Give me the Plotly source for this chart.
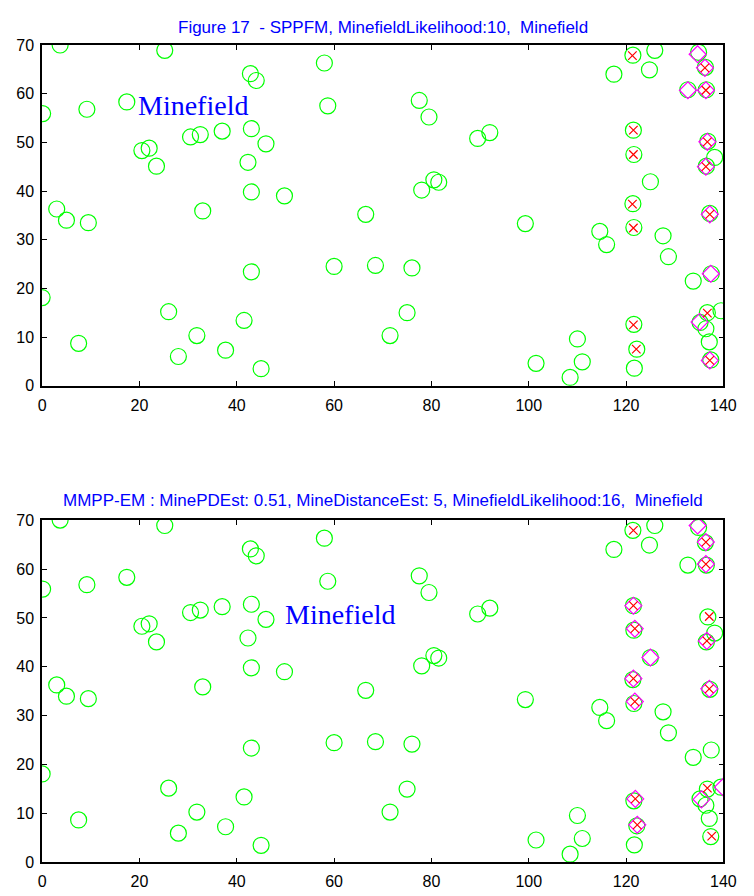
import plotly.graph_objects as go

# ---------------- data ----------------
obj_x = [3.7, 0.1, 9.2, 17.4, 25.2, 3.0, 5.0, 9.5, 0.0, 7.5, 20.5, 22.0, 23.5, 30.5, 32.5,
         37.0, 33.0, 26.0, 28.0, 31.8, 37.7, 41.5, 42.8, 44.0, 43.0, 46.0, 42.3, 43.0, 43.0,
         45.0, 49.8, 58.0, 58.7, 66.5, 60.0, 68.5, 71.5, 75.0, 76.0, 77.5, 79.5, 78.0, 80.5,
         81.5, 89.5, 92.0, 99.3, 101.5, 108.5, 110.0, 111.0, 114.6, 116.0, 117.5, 121.4,
         125.9, 124.8, 125.0, 127.6, 128.7, 133.8, 121.5, 121.6, 121.4, 121.6, 121.6, 122.2,
         121.7, 134.9, 136.3, 132.7, 136.5, 136.8, 138.2, 136.5, 137.2, 137.5, 135.2, 136.7,
         139.5, 136.4, 137.1, 137.4]
obj_y = [70.0, 55.9, 56.8, 58.3, 68.9, 36.3, 34.0, 33.5, 18.1, 8.7, 48.3, 48.8, 45.1, 51.1,
         51.6, 52.3, 35.9, 15.2, 6.0, 10.3, 7.3, 13.4, 64.1, 62.7, 52.8, 49.7, 45.9, 39.8,
         23.4, 3.5, 39.0, 66.3, 57.5, 35.2, 24.5, 24.7, 10.3, 15.0, 24.2, 58.6, 55.2, 40.2,
         42.3, 41.8, 50.8, 52.0, 33.3, 4.6, 1.7, 9.6, 4.9, 31.7, 29.0, 64.0, 67.9, 68.9,
         64.9, 41.9, 30.8, 26.5, 21.5, 52.5, 47.5, 37.4, 32.5, 12.6, 7.5, 3.6, 68.5, 65.4,
         60.8, 60.8, 50.2, 46.9, 45.1, 35.4, 23.0, 13.0, 15.0, 15.4, 11.7, 9.0, 5.3]

# Figure 17 - SPPFM estimates
sppfm_x_x = [121.3, 136.2, 136.4, 136.7, 136.4, 121.5, 121.5, 121.3, 121.5, 137.2, 136.7, 137.2, 121.5, 122.1]
sppfm_x_y = [67.8, 65.3, 60.7, 50.1, 45.0, 52.5, 47.5, 37.3, 32.4, 35.2, 14.9, 5.2, 12.5, 7.5]
sppfm_d_x = [134.7, 136.2, 132.7, 136.4, 136.7, 136.4, 137.2, 137.4, 135.1, 137.2]
sppfm_d_y = [68.1, 65.3, 60.7, 60.7, 50.1, 45.0, 35.2, 23.0, 13.1, 5.2]

# MMPP-EM estimates
mmpp_x_x = [121.5, 136.4, 136.4, 121.5, 121.8, 137.1, 136.6, 121.5, 137.1, 121.8, 136.7, 137.6, 121.9, 122.3]
mmpp_x_y = [67.9, 65.5, 61.0, 52.5, 47.8, 50.3, 45.3, 37.6, 35.5, 32.9, 15.2, 5.4, 13.0, 7.7]
mmpp_d_x = [134.7, 136.4, 136.4, 121.5, 121.8, 136.6, 125.0, 121.5, 137.1, 121.8, 139.9, 135.5, 121.9, 122.3]
mmpp_d_y = [68.9, 65.5, 61.0, 52.5, 47.8, 45.3, 41.9, 37.6, 35.5, 32.9, 15.4, 12.9, 13.0, 7.7]

x_ticks = [0, 20, 40, 60, 80, 100, 120, 140]
y_ticks = [0, 10, 20, 30, 40, 50, 60, 70]

title_top = "Figure 17  - SPPFM, MinefieldLikelihood:10,  Minefield"
title_bot = "MMPP-EM : MinePDEst: 0.51, MineDistanceEst: 5, MinefieldLikelihood:16,  Minefield"
label_text = "Minefield"

# ---------------- figure ----------------
W, H = 754, 896
fig = go.Figure()

def add_panel(xa, ya, xx, xy, dx, dy):
    fig.add_trace(go.Scatter(x=obj_x, y=obj_y, mode="markers", xaxis=xa, yaxis=ya,
                             marker=dict(symbol="circle-open", size=16, color="#00ff00",
                                         line=dict(width=1.2, color="#00ff00")),
                             showlegend=False, hoverinfo="skip"))
    fig.add_trace(go.Scatter(x=dx, y=dy, mode="markers", xaxis=xa, yaxis=ya,
                             marker=dict(symbol="diamond-open", size=13, color="#ff00ff",
                                         line=dict(width=1.2, color="#ff00ff")),
                             showlegend=False, hoverinfo="skip"))
    fig.add_trace(go.Scatter(x=xx, y=xy, mode="markers", xaxis=xa, yaxis=ya,
                             marker=dict(symbol="x-thin-open", size=8.5, color="#ff0000",
                                         line=dict(width=1.2, color="#ff0000")),
                             showlegend=False, hoverinfo="skip"))

add_panel("x", "y", sppfm_x_x, sppfm_x_y, sppfm_d_x, sppfm_d_y)
add_panel("x2", "y2", mmpp_x_x, mmpp_x_y, mmpp_d_x, mmpp_d_y)

left_px, right_px = 39, 736
top1, bot1 = 37.7, 385
top2, bot2 = 522, 871
xdom = [left_px / W, right_px / W]

axis_common = dict(showline=True, linecolor="black", linewidth=1.5, mirror="ticks",
                   ticks="inside", ticklen=5, tickwidth=1, tickcolor="black",
                   showgrid=False, zeroline=False,
                   tickfont=dict(family="Liberation Sans, Arial", size=16, color="black"))

fig.update_layout(
    width=W, height=H,
    margin=dict(l=0, r=0, t=0, b=0),
    paper_bgcolor="white", plot_bgcolor="white",
    xaxis=dict(domain=xdom, range=[0, 140], tickvals=x_ticks, anchor="y",
               ticklabelstandoff=4, **axis_common),
    yaxis=dict(domain=[1 - bot1 / H, 1 - top1 / H], range=[0, 70], tickvals=y_ticks,
               anchor="x", ticklabelstandoff=3, **axis_common),
    xaxis2=dict(domain=xdom, range=[0, 140], tickvals=x_ticks, anchor="y2",
                ticklabelstandoff=4, **axis_common),
    yaxis2=dict(domain=[1 - bot2 / H, 1 - top2 / H], range=[0, 70], tickvals=y_ticks,
                anchor="x2", ticklabelstandoff=3, **axis_common),
)

cx = (left_px + right_px) / 2 / W
fig.add_annotation(text=title_top, x=cx, y=1 - 19.5 / H, xref="paper", yref="paper",
                   xanchor="center", yanchor="middle", showarrow=False,
                   font=dict(family="Liberation Sans, Arial", size=17, color="#0000ff"))
fig.add_annotation(text=title_bot, x=cx, y=1 - 502 / H, xref="paper", yref="paper",
                   xanchor="center", yanchor="middle", showarrow=False,
                   font=dict(family="Liberation Sans, Arial", size=17, color="#0000ff"))

fig.add_annotation(text=label_text, x=19.3, y=57.6, xref="x", yref="y",
                   xanchor="left", yanchor="middle", showarrow=False,
                   font=dict(family="Liberation Serif, Times New Roman", size=28, color="#0000ff"))
fig.add_annotation(text=label_text, x=49.6, y=50.6, xref="x2", yref="y2",
                   xanchor="left", yanchor="middle", showarrow=False,
                   font=dict(family="Liberation Serif, Times New Roman", size=28, color="#0000ff"))

fig.write_html("out.html")
